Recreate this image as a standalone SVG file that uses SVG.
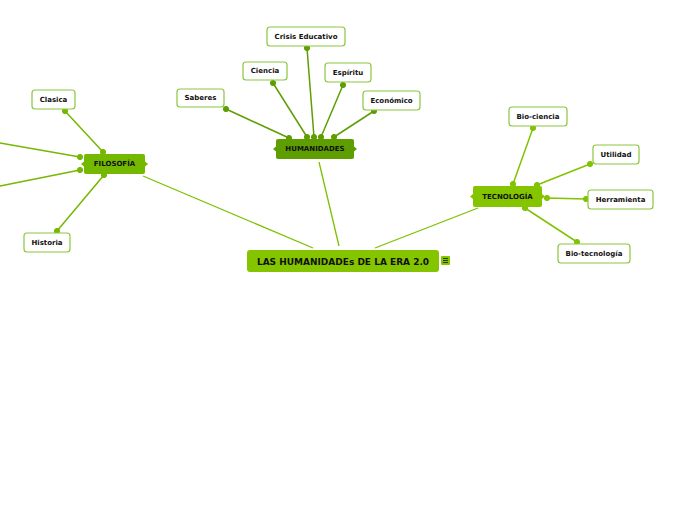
<svg xmlns="http://www.w3.org/2000/svg" width="696" height="520" viewBox="0 0 696 520">
<style>
text{font-family:"DejaVu Sans",Verdana,sans-serif;font-weight:bold;fill:#111;text-anchor:middle;dominant-baseline:central}
.leaf rect{fill:#fff;stroke:#8cc63f;stroke-width:1.2}
.leaf text{font-size:7px}
.br text{font-size:7px}
.c{fill:none;stroke-width:1.5;stroke-linecap:round}
.m{fill:none;stroke:#7cc000;stroke-width:1.3}
</style>
<rect width="696" height="520" fill="#fff"/>
<g id="connectors">
<line class="m" x1="143" y1="176" x2="313" y2="248"/>
<line class="m" x1="319" y1="162" x2="339" y2="246"/>
<line class="m" x1="478" y1="208" x2="375" y2="248"/>
<g stroke="#5e9e00" fill="#5e9e00">
<line class="c" x1="307" y1="48" x2="314" y2="137"/>
<line class="c" x1="273" y1="83" x2="307" y2="137"/>
<line class="c" x1="226" y1="109" x2="289" y2="138"/>
<line class="c" x1="343" y1="85" x2="321" y2="137"/>
<line class="c" x1="374" y1="111" x2="334" y2="137"/>
<circle cx="307" cy="48" r="2.6"/><circle cx="314" cy="137" r="2.6"/>
<circle cx="273" cy="83" r="2.6"/><circle cx="307" cy="137" r="2.6"/>
<circle cx="226" cy="109" r="2.6"/><circle cx="289" cy="138" r="2.6"/>
<circle cx="343" cy="85" r="2.6"/><circle cx="321" cy="137" r="2.6"/>
<circle cx="374" cy="111" r="2.6"/><circle cx="334" cy="137" r="2.6"/>
</g>
<g stroke="#74b800" fill="#74b800">
<line class="c" x1="65" y1="111" x2="103" y2="152"/>
<line class="c" x1="57" y1="231" x2="104" y2="175"/>
<line class="c" x1="0" y1="143" x2="80" y2="157"/>
<line class="c" x1="0" y1="186" x2="80" y2="170"/>
<circle cx="65" cy="111" r="2.6"/><circle cx="103" cy="152" r="2.6"/>
<circle cx="57" cy="231" r="2.6"/><circle cx="104" cy="175" r="2.6"/>
<circle cx="80" cy="157" r="2.6"/><circle cx="80" cy="170" r="2.6"/>
</g>
<g stroke="#80c300" fill="#80c300">
<line class="c" x1="533" y1="128" x2="513" y2="184"/>
<line class="c" x1="590" y1="164" x2="537" y2="185"/>
<line class="c" x1="586" y1="199" x2="547" y2="198"/>
<line class="c" x1="577" y1="242" x2="525" y2="208"/>
<circle cx="533" cy="128" r="2.6"/><circle cx="513" cy="184" r="2.6"/>
<circle cx="590" cy="164" r="2.6"/><circle cx="537" cy="185" r="2.6"/>
<circle cx="586" cy="199" r="2.6"/><circle cx="547" cy="198" r="2.6"/>
<circle cx="577" cy="242" r="2.6"/><circle cx="525" cy="208" r="2.6"/>
</g>
</g>
<g id="main">
<rect x="247" y="250" width="192" height="22" rx="3" fill="#84c500"/>
<text x="343" y="261.5" style="font-size:9px">LAS HUMANIDADEs DE LA ERA 2.0</text>
<rect x="441" y="256" width="9" height="9" rx="1" fill="#84c500"/>
<path d="M443 258.5h5M443 260.5h5M443 262.5h5" stroke="#1a3300" stroke-width="0.9"/>
</g>
<g id="humanidades" class="br">
<rect x="276" y="139" width="78" height="20" rx="2" fill="#5e9e00"/>
<polygon points="276,146.5 273,149 276,151.5" fill="#5e9e00"/>
<polygon points="354,146.5 357,149 354,151.5" fill="#5e9e00"/>
<text x="315" y="149">HUMANIDADES</text>
</g>
<g id="filosofia" class="br">
<rect x="84" y="154" width="61" height="20" rx="2" fill="#74b800"/>
<polygon points="84,161.5 81,164 84,166.5" fill="#74b800"/>
<polygon points="145,161.5 148,164 145,166.5" fill="#74b800"/>
<text x="114.5" y="164">FILOSOFÍA</text>
</g>
<g id="tecnologia" class="br">
<rect x="473" y="186" width="69" height="21" rx="2" fill="#84c500"/>
<polygon points="473,194 470,196.5 473,199" fill="#84c500"/>
<polygon points="542,194 545,196.5 542,199" fill="#84c500"/>
<text x="507.5" y="196.5">TECNOLOGÍA</text>
</g>
<g id="crisis" class="leaf"><rect x="267" y="27" width="78" height="19" rx="3"/><text x="306" y="36.5">Crisis Educativo</text></g>
<g id="ciencia" class="leaf"><rect x="243" y="62" width="44" height="18" rx="3"/><text x="265" y="71">Ciencia</text></g>
<g id="saberes" class="leaf"><rect x="177" y="89" width="47" height="18" rx="3"/><text x="200.5" y="98">Saberes</text></g>
<g id="espiritu" class="leaf"><rect x="325" y="63" width="46" height="19" rx="3"/><text x="348" y="72.5">Espíritu</text></g>
<g id="economico" class="leaf"><rect x="363" y="91" width="57" height="19" rx="3"/><text x="391.5" y="100.5">Económico</text></g>
<g id="clasica" class="leaf"><rect x="32" y="90" width="43" height="19" rx="3"/><text x="53.5" y="99.5">Clasica</text></g>
<g id="historia" class="leaf"><rect x="24" y="233" width="46" height="19" rx="3"/><text x="47" y="242.5">Historia</text></g>
<g id="biociencia" class="leaf"><rect x="509" y="107" width="58" height="19" rx="3"/><text x="538" y="116.5">Bio-ciencia</text></g>
<g id="utilidad" class="leaf"><rect x="593" y="145" width="46" height="19" rx="3"/><text x="616" y="154.5">Utilidad</text></g>
<g id="herramienta" class="leaf"><rect x="588" y="190" width="65" height="19" rx="3"/><text x="620.5" y="199.5">Herramienta</text></g>
<g id="biotecnologia" class="leaf"><rect x="558" y="244" width="72" height="19" rx="3"/><text x="594" y="253.5">Bio-tecnología</text></g>
</svg>
